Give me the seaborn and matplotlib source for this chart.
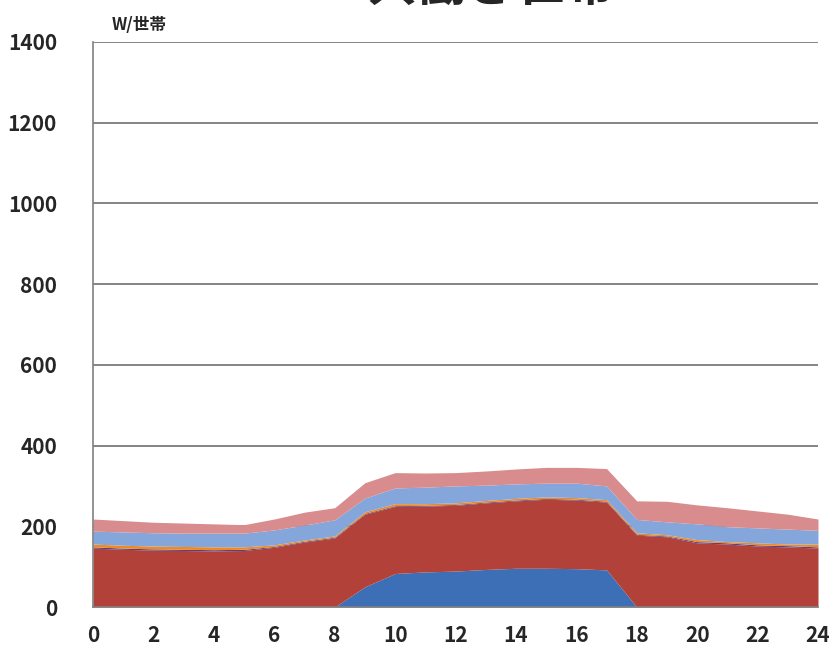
import numpy as np
import pandas as pd
import matplotlib
matplotlib.use("Agg")
import matplotlib.pyplot as plt
import seaborn as sns

# Hourly household load profile (W per household), stacked by component
hours = list(range(0, 25))
solar = [0, 0, 0, 0, 0, 0, 0, 0, 0, 50, 83, 87, 89, 93, 96, 96, 95, 92, 0, 0, 0, 0, 0, 0, 0]
base = [146, 143, 141, 140, 139, 140, 148, 161, 171, 180, 166, 163, 163, 165, 167, 171, 170, 168, 178, 174, 159, 156, 151, 149, 146]
purple = [3, 3, 3, 3, 3, 3, 2, 2, 2, 2, 2, 2, 2, 2, 2, 2, 2, 2, 2, 2, 3, 3, 3, 3, 3]
orange = [7, 7, 7, 7, 7, 6, 4, 3, 3, 4, 5, 4, 4, 4, 4, 4, 4, 4, 4, 3, 5, 3, 5, 4, 7]
light_blue = [32, 33, 33, 33, 34, 34, 37, 37, 40, 34, 39, 41, 42, 38, 36, 34, 36, 34, 33, 32, 39, 37, 37, 37, 34]
pink = [30, 28, 26, 25, 23, 21, 27, 32, 30, 38, 38, 35, 33, 35, 37, 39, 39, 43, 46, 51, 47, 47, 42, 37, 28]

y_ticks = [0, 200, 400, 600, 800, 1000, 1200, 1400]
x_labels = [str(h) if h % 2 == 0 else "" for h in hours]

df = pd.DataFrame({
    "hour": hours,
    "solar": solar,
    "base": base,
    "purple": purple,
    "orange": orange,
    "light_blue": light_blue,
    "pink": pink,
})

sns.set_style("white")
plt.rcParams["font.family"] = ["Noto Sans CJK JP", "DejaVu Sans"]

fig = plt.figure(figsize=(8.31, 6.51), dpi=100)
ax = fig.add_axes([93 / 831, 1 - 607 / 651, (818 - 93) / 831, (607 - 42) / 651])

colors = ["#3d6fb6", "#b2413a", "#5a3e8e", "#f08a1e", "#84a6da", "#d98c8e"]
layers = ["solar", "base", "purple", "orange", "light_blue", "pink"]
ax.stackplot(df["hour"], *[df[c] for c in layers], colors=colors, linewidth=0)

ax.set_xlim(0, 24)
ax.set_ylim(0, 1400)
ax.set_yticks(y_ticks)
ax.set_xticks(hours)
ax.set_xticklabels(x_labels)
ax.yaxis.grid(True, color="#707070", linewidth=1.2)
ax.set_axisbelow(True)

sns.despine(ax=ax, top=True, right=True)
for side in ("left", "bottom"):
    ax.spines[side].set_color("#808080")
    ax.spines[side].set_linewidth(1.2)

ax.tick_params(axis="y", direction="out", length=8, width=1.2, color="#707070",
               pad=18, labelsize=15)
ax.tick_params(axis="x", direction="out", length=8, width=1.0, color="#808080",
               pad=5, labelsize=15)
for lbl in ax.get_xticklabels() + ax.get_yticklabels():
    lbl.set_fontweight("bold")

fig.text(112 / 831, 1 - 25 / 651, "W/世帯", fontsize=12, fontweight="bold",
         ha="left", va="center")
fig.text(492 / 831, 1 - 1 / 651, "共働き世帯", fontsize=36, fontweight="bold",
         ha="center", va="baseline")

fig.savefig("out.png", dpi=100)
